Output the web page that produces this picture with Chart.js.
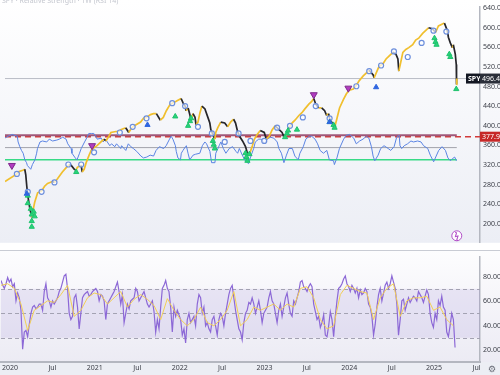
<!DOCTYPE html>
<html>
<head>
<meta charset="utf-8">
<script src="https://cdn.jsdelivr.net/npm/chart.js@4.4.1/dist/chart.umd.min.js"></script>
<style>
  html, body { margin: 0; padding: 0; background: #fff; overflow: hidden; }
  #wrap { width: 500px; height: 375px; }
  canvas { display: block; }
</style>
</head>
<body>
<div id="wrap">
  <canvas id="top" width="500" height="250"></canvas>
  <canvas id="bot" width="500" height="125"></canvas>
</div>
<script>
// --- data ---
const xMin = 2019.894;
const xMax = 2025.541;
const symbol = 'SPY';
const lastPrice = 496.48;
const alertLevel = 377.90;

const xTickValues = [2020, 2020.5, 2021, 2021.5, 2022, 2022.5, 2023, 2023.5, 2024, 2024.5, 2025, 2025.5];
const xTickLabels = ['2020', 'Jul', '2021', 'Jul', '2022', 'Jul', '2023', 'Jul', '2024', 'Jul', '2025', 'Jul'];
const priceTicks = [200, 240, 280, 320, 360, 400, 440, 480, 520, 560, 600, 640];
const rsiTicks = [20, 40, 60, 80];
const rsiLevels = [30, 50, 70];
const rsLevels = [70, 50, 30];

const priceDates = [
  2019.894, 2020.035, 2020.047, 2020.106, 2020.129, 2020.141, 2020.153, 2020.165, 2020.188, 2020.212,
  2020.224, 2020.247, 2020.282, 2020.329, 2020.365, 2020.400, 2020.459, 2020.482, 2020.518, 2020.576,
  2020.624, 2020.659, 2020.682, 2020.718, 2020.741, 2020.753, 2020.800, 2020.812, 2020.835, 2020.859,
  2020.894, 2020.918, 2020.953, 2020.988, 2021.035, 2021.071, 2021.094, 2021.129, 2021.153, 2021.212,
  2021.247, 2021.271, 2021.329, 2021.365, 2021.400, 2021.447, 2021.506, 2021.541, 2021.576, 2021.624,
  2021.659, 2021.694, 2021.741, 2021.776, 2021.812, 2021.859, 2021.882, 2021.929, 2021.988, 2022.012,
  2022.035, 2022.047, 2022.071, 2022.094, 2022.106, 2022.129, 2022.153, 2022.165, 2022.188, 2022.212,
  2022.235, 2022.271, 2022.306, 2022.329, 2022.341, 2022.365, 2022.388, 2022.400, 2022.424, 2022.459,
  2022.506, 2022.541, 2022.576, 2022.612, 2022.635, 2022.659, 2022.682, 2022.718, 2022.753, 2022.776,
  2022.788, 2022.812, 2022.835, 2022.859, 2022.894, 2022.929, 2022.976, 2023.000, 2023.035, 2023.071,
  2023.106, 2023.153, 2023.188, 2023.212, 2023.235, 2023.271, 2023.306, 2023.341, 2023.388, 2023.424,
  2023.459, 2023.506, 2023.541, 2023.565, 2023.588, 2023.624, 2023.659, 2023.694, 2023.718, 2023.741,
  2023.753, 2023.776, 2023.800, 2023.812, 2023.835, 2023.871, 2023.918, 2023.953, 2023.988, 2024.035,
  2024.071, 2024.106, 2024.153, 2024.188, 2024.224, 2024.271, 2024.282, 2024.306, 2024.341, 2024.388,
  2024.424, 2024.459, 2024.506, 2024.541, 2024.565, 2024.576, 2024.600, 2024.624, 2024.659, 2024.694,
  2024.741, 2024.776, 2024.812, 2024.859, 2024.894, 2024.929, 2024.976, 2025.012, 2025.047, 2025.094,
  2025.118, 2025.153, 2025.165, 2025.188, 2025.212, 2025.224, 2025.247, 2025.259, 2025.262, 2025.265
];
const priceValues = [
  286.5, 301.9, 305.8, 309.6, 311.5, 300.0, 276.9, 257.7, 232.7, 213.5,
  225.0, 244.2, 263.5, 267.3, 276.9, 282.7, 286.5, 284.6, 292.3, 305.8,
  315.4, 321.2, 319.2, 311.5, 309.6, 315.4, 319.2, 305.8, 311.5, 325.0,
  340.4, 350.0, 355.8, 359.6, 367.3, 373.0, 369.2, 378.8, 386.5, 388.5,
  388.5, 392.3, 396.2, 386.5, 396.2, 401.9, 407.7, 415.4, 417.3, 423.0,
  425.0, 425.0, 411.5, 417.3, 430.8, 444.2, 446.2, 450.0, 455.8, 446.2,
  440.4, 430.8, 436.5, 421.2, 411.5, 425.0, 417.3, 401.9, 407.7, 426.9,
  440.4, 434.6, 417.3, 405.8, 392.3, 382.7, 373.0, 386.5, 396.2, 407.7,
  405.8, 398.1, 407.7, 413.5, 405.8, 388.5, 378.8, 369.2, 357.7, 344.2,
  338.5, 348.0, 359.6, 373.0, 382.7, 390.4, 386.5, 373.0, 378.8, 392.3,
  400.0, 392.3, 386.5, 376.9, 378.8, 396.2, 405.8, 411.5, 421.2, 426.9,
  434.6, 444.2, 450.0, 455.8, 444.2, 436.5, 436.5, 430.8, 421.2, 425.0,
  415.4, 407.7, 401.9, 396.2, 411.5, 436.5, 453.8, 465.4, 473.0, 475.0,
  482.7, 492.3, 501.9, 507.7, 513.5, 503.8, 498.0, 507.7, 521.2, 526.9,
  536.5, 542.3, 550.0, 546.2, 536.5, 511.5, 530.8, 550.0, 555.8, 559.6,
  565.4, 575.0, 578.8, 588.5, 594.2, 600.0, 598.1, 590.4, 603.8, 607.7,
  609.6, 594.2, 580.8, 569.2, 559.6, 565.4, 546.2, 525.0, 484.6, 496.48
];

// relative strength line drawn over the price pane (own hidden 0-100 scale)
const rsDates = [
  2019.89, 2019.93, 2019.98, 2020.04, 2020.05, 2020.07, 2020.09, 2020.11, 2020.13, 2020.15,
  2020.16, 2020.20, 2020.22, 2020.25, 2020.27, 2020.28, 2020.31, 2020.34, 2020.39, 2020.42,
  2020.46, 2020.51, 2020.54, 2020.58, 2020.62, 2020.64, 2020.68, 2020.69, 2020.73, 2020.75,
  2020.78, 2020.80, 2020.84, 2020.87, 2020.89, 2020.92, 2020.95, 2020.98, 2020.99, 2021.04,
  2021.06, 2021.09, 2021.11, 2021.14, 2021.16, 2021.20, 2021.22, 2021.27, 2021.28, 2021.33,
  2021.36, 2021.39, 2021.42, 2021.46, 2021.51, 2021.54, 2021.58, 2021.62, 2021.66, 2021.69,
  2021.73, 2021.78, 2021.81, 2021.85, 2021.87, 2021.89, 2021.92, 2021.93, 2021.95, 2021.98,
  2021.99, 2022.01, 2022.04, 2022.05, 2022.07, 2022.09, 2022.13, 2022.16, 2022.21, 2022.24,
  2022.27, 2022.29, 2022.33, 2022.35, 2022.39, 2022.40, 2022.44, 2022.46, 2022.49, 2022.52,
  2022.56, 2022.60, 2022.64, 2022.66, 2022.68, 2022.72, 2022.75, 2022.79, 2022.81, 2022.85,
  2022.87, 2022.91, 2022.94, 2022.98, 2023.01, 2023.05, 2023.09, 2023.13, 2023.15, 2023.18,
  2023.21, 2023.24, 2023.27, 2023.31, 2023.34, 2023.38, 2023.40, 2023.44, 2023.47, 2023.51,
  2023.54, 2023.58, 2023.61, 2023.64, 2023.68, 2023.72, 2023.75, 2023.80, 2023.81, 2023.84,
  2023.87, 2023.92, 2023.95, 2023.99, 2024.04, 2024.07, 2024.11, 2024.15, 2024.19, 2024.22,
  2024.25, 2024.27, 2024.29, 2024.33, 2024.36, 2024.40, 2024.45, 2024.48, 2024.52, 2024.55,
  2024.58, 2024.59, 2024.61, 2024.64, 2024.68, 2024.72, 2024.75, 2024.80, 2024.84, 2024.87,
  2024.92, 2024.95, 2024.99, 2025.02, 2025.05, 2025.09, 2025.13, 2025.16, 2025.19, 2025.21,
  2025.24, 2025.26
];
const rsValues = [
  65.4, 68.5, 71.5, 68.5, 59.2, 51.5, 45.4, 40.8, 30.0, 25.4,
  20.8, 14.6, 22.3, 30.0, 40.8, 48.5, 59.2, 60.8, 59.2, 63.8,
  60.8, 62.3, 63.8, 66.9, 63.8, 56.2, 48.5, 40.8, 33.1, 30.0,
  40.8, 48.5, 59.2, 66.9, 73.1, 73.1, 73.1, 66.9, 63.8, 65.4,
  59.2, 63.8, 59.2, 53.1, 56.2, 51.5, 56.2, 48.5, 53.1, 45.4,
  56.2, 51.5, 48.5, 43.8, 36.2, 33.1, 34.6, 37.7, 36.2, 45.4,
  51.5, 48.5, 53.1, 63.8, 68.5, 63.8, 53.1, 43.8, 33.1, 30.0,
  40.8, 45.4, 51.5, 53.1, 40.8, 30.0, 37.7, 39.2, 40.8, 53.1,
  59.2, 56.2, 43.8, 25.4, 25.4, 40.8, 53.1, 59.2, 48.5, 40.8,
  48.5, 51.5, 43.8, 40.8, 48.5, 36.2, 28.5, 23.8, 33.1, 48.5,
  59.2, 63.8, 63.8, 56.2, 63.8, 66.9, 65.4, 59.2, 48.5, 40.8,
  25.4, 37.7, 48.5, 48.5, 36.2, 30.0, 40.8, 51.5, 63.8, 68.5,
  68.5, 63.8, 56.2, 45.4, 40.8, 45.4, 30.0, 28.5, 22.3, 33.1,
  48.5, 63.8, 70.0, 71.5, 65.4, 56.2, 60.8, 63.8, 68.5, 65.4,
  51.5, 36.2, 28.5, 37.7, 48.5, 53.1, 48.5, 45.4, 51.5, 66.9,
  70.0, 53.1, 48.5, 53.1, 56.2, 60.8, 59.2, 60.8, 59.2, 53.1,
  48.5, 37.7, 26.9, 36.2, 45.4, 51.5, 45.4, 33.1, 28.5, 31.5,
  34.6, 28.5
];

// signal markers
const circleDates = [2020.035, 2020.165, 2020.329, 2020.482, 2020.647, 2020.800, 2020.953, 2021.259, 2021.412, 2021.576,
  2021.882, 2022.035, 2022.188, 2022.353, 2022.506, 2022.671, 2022.812, 2022.976, 2023.129, 2023.282,
  2023.435, 2023.588, 2023.753, 2024.071, 2024.224, 2024.365, 2024.518, 2024.682, 2024.847, 2024.988, 2025.141];
const circleValues = [301.9, 265.4, 265.4, 284.6, 321.2, 321.2, 346.1, 386.5, 398.1, 415.4,
  446.2, 440.4, 398.1, 384.6, 367.3, 384.6, 369.2, 369.2, 396.2, 400.0,
  417.3, 440.4, 415.4, 480.8, 511.5, 523.1, 551.9, 540.4, 569.2, 594.2, 592.3];
const buyDates = [2020.165, 2020.165, 2020.200, 2020.212, 2020.212, 2020.212, 2020.235, 2020.247, 2020.741, 2021.918,
  2022.071, 2022.094, 2022.106, 2022.365, 2022.376, 2022.388, 2022.753, 2022.765, 2022.776, 2022.800,
  2023.224, 2023.247, 2023.259, 2023.365, 2023.753, 2023.800, 2023.812, 2025.000, 2025.012, 2025.024,
  2025.176, 2025.188, 2025.259];
const buyValues = [257.7, 242.3, 230.8, 219.2, 205.8, 194.2, 225.0, 215.4, 305.8, 419.2,
  400.0, 409.6, 415.4, 369.2, 361.5, 353.8, 344.2, 336.5, 328.8, 342.3,
  376.9, 384.6, 390.4, 392.3, 407.7, 401.9, 396.2, 578.8, 571.2, 565.4,
  546.2, 540.4, 475.0];
const sellDates = [2019.976, 2020.929, 2023.565, 2023.976];
const sellValues = [319.2, 359.6, 463.5, 476.9];
const upDates = [2020.153, 2021.588, 2023.753, 2024.306];
const upValues = [261.5, 401.9, 407.7, 478.8];

// RSI pane, one reading per week
const rsiStart = 2019.894;
const rsiStep = 1 / 51;
const rsiValues = [
  76.8, 72.9, 70.4, 74.2, 79.3, 75.5, 78.0, 71.7, 74.2, 60.2, 66.6, 62.7, 52.5, 20.7, 34.7, 36.0, 30.9, 41.1, 50.0, 55.1,
  56.4, 53.8, 55.1, 57.6, 57.6, 52.5, 67.8, 74.2, 62.7, 60.2, 55.1, 60.2, 57.6, 60.2, 62.7, 67.8, 70.4, 75.5, 80.6, 81.9,
  70.4, 50.0, 44.9, 47.5, 62.7, 65.3, 55.1, 37.3, 50.0, 62.7, 65.3, 66.6, 67.8, 64.0, 65.3, 67.8, 69.1, 70.4, 67.8, 60.2,
  65.3, 64.0, 60.2, 44.9, 57.6, 60.2, 62.7, 65.3, 67.8, 71.7, 75.5, 67.8, 57.6, 65.3, 42.4, 50.0, 57.6, 53.8, 60.2, 61.5,
  62.7, 70.4, 67.8, 60.2, 62.7, 65.3, 67.8, 62.7, 57.6, 55.1, 57.6, 60.2, 51.3, 34.7, 44.9, 37.3, 55.1, 70.4, 72.9, 76.8,
  70.4, 67.8, 55.1, 34.7, 55.1, 47.5, 52.5, 48.7, 44.9, 32.2, 37.3, 25.8, 44.9, 50.0, 42.4, 44.9, 47.5, 39.8, 57.6, 65.3,
  62.7, 50.0, 55.1, 39.8, 42.4, 37.3, 34.7, 44.9, 47.5, 39.8, 32.2, 44.9, 50.0, 47.5, 39.8, 50.0, 57.6, 65.3, 70.4, 72.9,
  62.7, 52.5, 44.9, 37.3, 34.7, 28.3, 42.4, 50.0, 52.5, 58.9, 57.6, 62.7, 57.6, 50.0, 55.1, 60.2, 52.5, 42.4, 50.0, 52.5,
  55.1, 62.7, 67.8, 60.2, 57.6, 50.0, 42.4, 52.5, 57.6, 47.5, 55.1, 62.7, 66.6, 57.6, 50.0, 47.5, 60.2, 57.6, 62.7, 67.8,
  75.5, 76.8, 71.7, 70.4, 67.8, 71.7, 74.2, 71.7, 57.6, 51.3, 44.9, 47.5, 38.5, 42.4, 48.7, 32.2, 30.9, 39.8, 51.3, 44.9,
  30.9, 47.5, 60.2, 70.4, 71.7, 74.2, 78.0, 80.6, 74.2, 71.7, 67.8, 72.9, 70.4, 66.6, 70.4, 62.7, 69.1, 65.3, 66.6, 70.4,
  67.8, 57.6, 55.1, 47.5, 32.2, 41.1, 55.1, 65.3, 70.4, 60.2, 66.6, 72.9, 75.5, 70.4, 74.2, 80.6, 75.5, 70.4, 57.6, 32.2,
  44.9, 60.2, 61.5, 52.5, 57.6, 62.7, 58.9, 61.5, 64.0, 62.7, 60.2, 67.8, 65.3, 62.7, 58.9, 64.0, 69.1, 65.3, 50.0, 42.4,
  38.5, 50.0, 44.9, 60.2, 56.4, 64.0, 55.1, 52.5, 34.7, 30.9, 39.8, 50.0, 44.9, 22.0
];
// RSI moving average, one reading every 4 weeks
const maEvery = 4;
const maValues = [
  72.9, 74.2, 70.4, 57.6, 36.0, 52.5, 56.4, 60.2, 58.9, 65.3, 72.9, 47.5, 52.5, 62.7, 66.6, 65.3, 57.6, 62.7, 67.8, 55.1,
  61.5, 65.3, 61.5, 56.4, 44.9, 62.0, 52.5, 44.9, 39.8, 44.9, 55.1, 42.4, 39.8, 44.9, 52.5, 67.8, 39.8, 44.9, 55.1, 52.5,
  55.1, 57.6, 52.5, 57.6, 55.1, 70.4, 71.7, 62.7, 44.9, 37.3, 39.8, 65.3, 72.9, 70.4, 67.8, 66.6, 44.9, 62.7, 70.4, 74.2,
  47.5, 60.2, 62.7, 62.7, 64.0, 52.5, 55.1, 44.9, 39.8
];

// --- helpers ---
const FONT = '"Noto Sans", "DejaVu Sans", sans-serif';
const pts = (xs, ys) => xs.map((x, i) => ({ x: x, y: ys[i] }));
const flat = (v, x0, x1) => [{ x: x0, y: v }, { x: x1, y: v }];
const lastDate = priceDates[priceDates.length - 1];

const rsiPoints = rsiValues.map((v, i) => ({ x: rsiStart + i * rsiStep, y: v }));
const maPoints = maValues.map((v, i) => ({ x: rsiStart + i * maEvery * rsiStep, y: v }));

const gradientBg = {
  id: 'gradientBg',
  beforeDraw(chart, args, opts) {
    const c = chart.ctx;
    const a = chart.chartArea;
    const g = c.createLinearGradient(0, 0, 0, a.bottom);
    g.addColorStop(0, opts.from);
    g.addColorStop(1, opts.to);
    c.save();
    c.fillStyle = g;
    c.fillRect(0, 0, chart.width, a.bottom);
    if (opts.strip) {
      c.fillStyle = opts.strip;
      c.fillRect(0, a.bottom, chart.width, chart.height - a.bottom);
    }
    c.restore();
  }
};

function box(c, x, y, w, h, fill, text, color, bold) {
  c.fillStyle = fill;
  c.fillRect(x, y, w, h);
  c.fillStyle = color;
  c.font = (bold ? 'bold ' : '') + '7px ' + FONT;
  c.textBaseline = 'middle';
  c.textAlign = 'left';
  c.fillText(text, x + 2, y + h / 2 + 0.5);
}

const priceLabels = {
  id: 'priceLabels',
  afterDraw(chart) {
    const c = chart.ctx;
    const a = chart.chartArea;
    const y = chart.scales.y;
    const x = chart.scales.x;
    c.save();
    // faint study title at the top edge
    c.fillStyle = '#c4c7cf';
    c.font = '7px ' + FONT;
    c.textBaseline = 'middle';
    c.fillText('SPY · Relative Strength · 1W (RSI 14)', 2, 1);
    // alert label
    const ya = y.getPixelForValue(alertLevel);
    box(c, a.right, ya - 5, chart.width - a.right, 10, '#c62828', alertLevel.toFixed(2), '#ffffff');
    // last price label
    const yp = y.getPixelForValue(lastPrice);
    box(c, a.right - 14, yp - 5, 14, 10, '#131722', symbol, '#ffffff', true);
    box(c, a.right, yp - 5, chart.width - a.right, 10, '#2a2e39', lastPrice.toFixed(2), '#ffffff');
    // event icon under the last bar
    const xi = x.getPixelForValue(lastDate);
    const yi = a.bottom - 7;
    c.beginPath();
    c.arc(xi, yi, 5, 0, Math.PI * 2);
    c.fillStyle = '#ffffff';
    c.fill();
    c.lineWidth = 1;
    c.strokeStyle = '#b24fc8';
    c.stroke();
    c.fillStyle = '#b24fc8';
    c.font = 'bold 8px ' + FONT;
    c.textAlign = 'center';
    c.fillText('ϟ', xi, yi + 0.5);
    c.restore();
  }
};

const rsiDecor = {
  id: 'rsiDecor',
  beforeDatasetsDraw(chart) {
    const c = chart.ctx;
    const a = chart.chartArea;
    const y = chart.scales.y;
    const y70 = y.getPixelForValue(rsiLevels[2]);
    const y30 = y.getPixelForValue(rsiLevels[0]);
    c.save();
    c.fillStyle = 'rgba(150, 130, 210, 0.16)';
    c.fillRect(a.left, y70, a.right - a.left, y30 - y70);
    c.strokeStyle = '#a3a2b2';
    c.lineWidth = 1;
    c.setLineDash([4, 3]);
    rsiLevels.forEach(v => {
      const py = Math.round(y.getPixelForValue(v)) + 0.5;
      c.beginPath();
      c.moveTo(a.left, py);
      c.lineTo(a.right, py);
      c.stroke();
    });
    c.restore();
  },
  afterDraw(chart) {
    const c = chart.ctx;
    c.save();
    c.strokeStyle = '#c9ccd4';
    c.lineWidth = 1;
    c.beginPath();
    c.moveTo(0, 0.5);
    c.lineTo(chart.width, 0.5);
    c.stroke();
    c.fillStyle = '#6a6d78';
    c.font = '9px ' + FONT;
    c.textAlign = 'center';
    c.textBaseline = 'middle';
    c.fillText('⚙', chart.chartArea.right + 12, chart.chartArea.bottom + 7);
    c.restore();
  }
};

const rightAxis = (min, max, ticks) => ({
  type: 'linear',
  position: 'right',
  min: min,
  max: max,
  afterFit: s => { s.width = 20; },
  afterBuildTicks: s => { s.ticks = ticks.map(v => ({ value: v })); },
  grid: { display: false, drawTicks: false, tickLength: 0 },
  border: { display: true, color: '#b4b7c0', width: 1.5 },
  ticks: {
    padding: 3,
    color: '#3a3d46',
    font: { family: FONT, size: 7 },
    callback: v => v.toFixed(2)
  }
});

const common = {
  responsive: false,
  animation: false,
  events: [],
  layout: { padding: 0 },
  elements: { point: { radius: 0, hoverRadius: 0 }, line: { tension: 0 } },
  plugins: { legend: { display: false }, tooltip: { enabled: false } }
};

// --- price pane ---
new Chart(document.getElementById('top').getContext('2d'), {
  type: 'line',
  data: {
    datasets: [
      { data: pts(upDates, upValues), showLine: false, pointStyle: 'triangle', pointRadius: 3,
        backgroundColor: '#2f66e0', borderColor: '#2f66e0', order: 0 },
      { data: pts(sellDates, sellValues), showLine: false, pointStyle: 'triangle', rotation: 180, pointRadius: 4,
        backgroundColor: '#b23cc0', borderColor: '#7e2a8c', borderWidth: 1, order: 0 },
      { data: pts(buyDates, buyValues), showLine: false, pointStyle: 'triangle', pointRadius: 3,
        backgroundColor: '#27d37a', borderColor: '#1fc26d', borderWidth: 1, order: 0 },
      { data: pts(circleDates, circleValues), showLine: false, pointStyle: 'circle', pointRadius: 2.5,
        backgroundColor: 'rgba(255,255,255,0.7)', borderColor: '#6d8fdc', borderWidth: 1.2, order: 1 },
      { data: pts(priceDates, priceValues), borderWidth: 1.7, borderColor: '#f0bf2e', order: 2,
        segment: { borderColor: ctx => ctx.p1.parsed.y < ctx.p0.parsed.y ? '#26262b' : '#f0bf2e' } },
      { data: pts(rsDates, rsValues), yAxisID: 'rs', borderColor: '#5b84e3', borderWidth: 1, order: 3 },
      { data: flat(rsLevels[0], rsDates[0], lastDate), yAxisID: 'rs',
        borderColor: '#a0587a', borderWidth: 2, order: 4 },
      { data: flat(alertLevel, xMin, xMax), borderColor: '#d23a3a', borderWidth: 1.5, borderDash: [6, 4], order: 4 },
      { data: flat(rsLevels[1], rsDates[0], lastDate), yAxisID: 'rs',
        borderColor: '#a2a3aa', borderWidth: 1, order: 5 },
      { data: flat(rsLevels[2], rsDates[0], lastDate), yAxisID: 'rs',
        borderColor: '#38da86', borderWidth: 1.5, order: 5 },
      { data: flat(lastPrice, xMin, xMax), borderColor: '#b9bcc6', borderWidth: 1, order: 6 }
    ]
  },
  options: Object.assign({}, common, {
    scales: {
      x: { type: 'linear', min: xMin, max: xMax, display: false },
      y: rightAxis(161.5, 642, priceTicks),
      rs: { axis: 'y', type: 'linear', position: 'left', min: -105.4, max: 279.2, display: false }
    },
    plugins: Object.assign({}, common.plugins, { gradientBg: { from: '#ffffff', to: '#eceef5' } })
  }),
  plugins: [gradientBg, priceLabels]
});

// --- RSI pane with the time axis ---
new Chart(document.getElementById('bot').getContext('2d'), {
  type: 'line',
  data: {
    datasets: [
      { data: maPoints, borderColor: '#f2cf55', borderWidth: 1, order: 1 },
      { data: rsiPoints, borderColor: '#8c68d6', borderWidth: 1.2, order: 2 }
    ]
  },
  options: Object.assign({}, common, {
    scales: {
      x: {
        type: 'linear', min: xMin, max: xMax, position: 'bottom',
        afterFit: s => { s.height = 13; },
        afterBuildTicks: s => { s.ticks = xTickValues.map(v => ({ value: v })); },
        grid: { display: false, drawTicks: false, tickLength: 0 },
        border: { display: true, color: '#b4b7c0', width: 2 },
        ticks: {
          padding: 2, autoSkip: false, maxRotation: 0, color: '#3a3d46',
          font: { family: FONT, size: 7 },
          callback: v => xTickLabels[xTickValues.indexOf(v)]
        }
      },
      y: rightAxis(10.2, 95.9, rsiTicks)
    },
    plugins: Object.assign({}, common.plugins, { gradientBg: { from: '#fdfdfe', to: '#ecebf4', strip: '#eceef4' } })
  }),
  plugins: [gradientBg, rsiDecor]
});
</script>
</body>
</html>
